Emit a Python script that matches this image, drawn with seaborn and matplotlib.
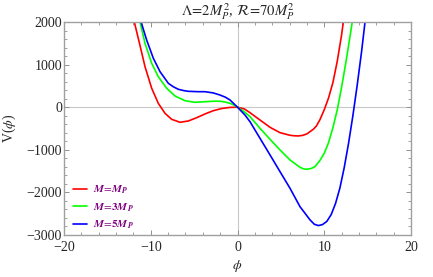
import numpy as np
import pandas as pd
import matplotlib
matplotlib.use('Agg')
import matplotlib.pyplot as plt
import seaborn as sns
from matplotlib.ticker import MultipleLocator

# Kurvor (phi, V)
phi_m1 = [-11.9, -11.24, -10.66, -9.89, -9.13, -8.36, -7.59, -6.63, -5.67, -4.70, -3.75,
          -2.79, -1.8, -0.86, 0, 0.8, 1.44, 2.59, 3.75, 4.90, 6.05, 6.5, 7.0, 7.5, 7.98,
          8.74, 9.1, 9.51, 10.0, 10.5, 11.0, 11.5, 12.0, 12.2]
V_m1 = [2005, 1450, 950, 443, 91, -143, -284, -354, -324, -246, -159,
        -82, -30, -5, 0, -42, -129, -300, -472, -598, -659, -670, -675, -662, -629,
        -518, -440, -290, -60, 220, 580, 1080, 1700, 2000]

phi_m3 = [-11.24, -10.66, -9.89, -9.13, -8.16, -7.2, -6.05, -4.9, -3.75, -2.8, -2.02,
          -1.4, -0.86, -0.4, 0, 0.8, 1.44, 2.59, 3.75, 4.90, 6.05, 7.2, 7.6, 7.98, 8.5,
          8.93, 9.5, 10.0, 10.47, 11.0, 11.5, 12.0, 12.5, 13.0, 13.25]
V_m3 = [2005, 1499, 1030, 716, 443, 263, 152, 115, 129, 140, 140,
        120, 91, 50, 0, -110, -223, -495, -753, -1004, -1238, -1410, -1446, -1457, -1438,
        -1395, -1250, -1080, -847, -480, -60, 470, 1060, 1700, 2030]

phi_m5 = [-11.12, -10.47, -9.7, -8.93, -7.97, -7.4, -6.82, -6.2, -5.67, -4.52, -3.75,
          -2.8, -2.02, -1.4, -0.86, 0, 0.86, 1.44, 2.59, 3.75, 4.90, 6.05, 7.2, 8.36, 8.85,
          9.32, 9.8, 10.3, 10.8, 11.3, 11.8, 12.3, 12.8, 13.3, 13.8, 14.3, 14.7]
V_m5 = [2005, 1576, 1147, 833, 560, 480, 420, 390, 373, 364, 364,
        335, 286, 235, 169, 0, -183, -340, -729, -1121, -1513, -1902, -2334, -2645, -2747,
        -2779, -2755, -2680, -2520, -2260, -1900, -1420, -850, -200, 520, 1300, 2000]

etiketter = [r'$\mathbfit{M}\!=\!\mathbfit{M}_{\mathbfit{P}}$',
             r'$\mathbfit{M}\!=\!\mathbf{3}\mathbfit{M}_{\mathbfit{P}}$',
             r'$\mathbfit{M}\!=\!\mathbf{5}\mathbfit{M}_{\mathbfit{P}}$']
farger = ['#ff0000', '#00ff00', '#0000ff']

sns.set_style('ticks')
plt.rcParams['font.family'] = ['Liberation Serif', 'DejaVu Serif']
plt.rcParams['mathtext.fontset'] = 'stix'

fig = plt.figure(figsize=(4.33, 2.77), dpi=100)
ax = fig.add_axes([0.1478, 0.1516, 0.8014, 0.769])

ax.axhline(0, color='#c8c8c8', lw=0.8, zorder=0)
ax.axvline(0, color='#c8c8c8', lw=0.8, zorder=0)

kurvor = [(phi_m1, V_m1), (phi_m3, V_m3), (phi_m5, V_m5)]
for (x, y), f, lab in zip(kurvor, farger, etiketter):
    sns.lineplot(x=x, y=y, color=f, lw=1.2, label=lab, sort=False, estimator=None, ax=ax)

ax.set_xlim(-20, 20)
ax.set_ylim(-3000, 2000)
ax.xaxis.set_major_locator(MultipleLocator(10))
ax.xaxis.set_minor_locator(MultipleLocator(2))
ax.yaxis.set_major_locator(MultipleLocator(1000))
ax.yaxis.set_minor_locator(MultipleLocator(200))
ax.tick_params(which='both', direction='in', top=True, right=True, color='#909090',
               labelsize=10)
ax.tick_params(axis='x', pad=4.5)
ax.tick_params(axis='y', pad=1.5)
ax.tick_params(which='major', length=3.5, width=0.7)
ax.tick_params(which='minor', length=2, width=0.6)
for s in ax.spines.values():
    s.set_color('#a0a0a0')
    s.set_linewidth(1.0)

ax.set_title(r'$\Lambda\!=\!2M_P^2$, $\mathcal{R}\!=\!70M_P^2$', fontsize=10.5, pad=3)
ax.set_xlabel(r'$\phi$', fontsize=10, labelpad=3)
ax.set_ylabel(r'V($\phi$)', fontsize=10, labelpad=6)

leg = ax.legend(loc='lower left', bbox_to_anchor=(0.0, -0.023), frameon=False, fontsize=8,
                handlelength=1.3, handletextpad=0.55, labelspacing=0.45,
                borderaxespad=0.5, borderpad=0.3)
for t in leg.get_texts():
    t.set_color('#800080')

plt.savefig('out.png', dpi=100)
